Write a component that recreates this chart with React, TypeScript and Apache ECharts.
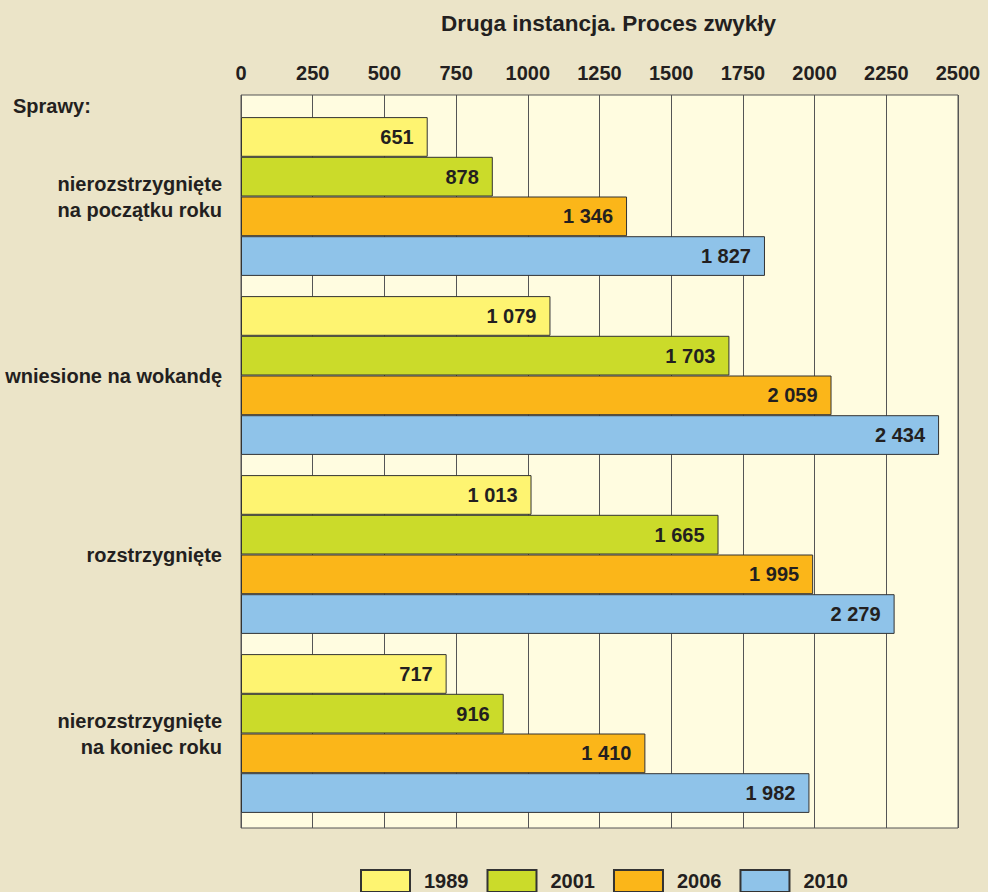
import React, { useEffect, useRef } from "react";
import * as echarts from "echarts";

const categories = [
  "nierozstrzygnięte\nna początku roku",
  "wniesione na wokandę",
  "rozstrzygnięte",
  "nierozstrzygnięte\nna koniec roku",
];
const seriesNames = ["1989", "2001", "2006", "2010"];
const values1989 = [651, 1079, 1013, 717];
const values2001 = [878, 1703, 1665, 916];
const values2006 = [1346, 2059, 1995, 1410];
const values2010 = [1827, 2434, 2279, 1982];
const colors = ["#fef471", "#cbdb2a", "#fbb619", "#8fc3e9"];

const fmt = (v: number) => String(v).replace(/\B(?=(\d{3})+(?!\d))/g, " ");

export default function App() {
  const ref = useRef<HTMLDivElement>(null);
  useEffect(() => {
    document.body.style.margin = "0";
    const chart = echarts.init(ref.current!, null, { renderer: "svg" });
    const font = "Liberation Sans, Arial, sans-serif";
    const allValues = [values1989, values2001, values2006, values2010];
    const txt = { fontSize: 20, fontWeight: "bold", color: "#231f20", fontFamily: font };
    chart.setOption({
      animation: false,
      backgroundColor: "#ebe4c8",
      textStyle: { fontFamily: font },
      title: {
        text: "Druga instancja. Proces zwykły",
        left: 436,
        top: 7,
        textStyle: { fontSize: 22.5, fontWeight: "bold", color: "#231f20", fontFamily: font },
      },
      legend: {
        data: seriesNames,
        icon: "rect",
        left: 360,
        top: 869,
        padding: 0,
        itemWidth: 49,
        itemHeight: 22,
        itemGap: 18,
        textStyle: { ...txt, padding: [0, 0, 0, 9] },
      },
      graphic: [
        {
          type: "text",
          left: 13,
          top: 96,
          style: { text: "Sprawy:", fontSize: 20, fontWeight: "bold", fill: "#231f20", fontFamily: font },
        },
      ],
      grid: [
        { left: 241, width: 717, top: 95, height: 733, show: true, backgroundColor: "#fffce0", borderColor: "#555", borderWidth: 1 },
        { left: 241, width: 717, top: 107, height: 716 },
      ],
      xAxis: [
        {
          gridIndex: 0,
          type: "value",
          position: "top",
          min: 0,
          max: 2500,
          interval: 250,
          axisLine: { show: false },
          axisTick: { show: false },
          axisLabel: { ...txt, margin: 12, formatter: (v: number) => String(v) },
          splitLine: { show: true, lineStyle: { color: "#555", width: 1 } },
        },
        {
          gridIndex: 1,
          type: "value",
          min: 0,
          max: 2500,
          show: false,
          splitLine: { show: false },
        },
      ],
      yAxis: [
        { gridIndex: 0, type: "category", data: categories, show: false, inverse: true },
        {
          gridIndex: 1,
          type: "category",
          data: categories,
          inverse: true,
          axisLine: { show: false },
          axisTick: { show: false },
          axisLabel: { ...txt, margin: 19, lineHeight: 26, align: "right" },
        },
      ],
      series: seriesNames.map((name, i) => ({
        name,
        type: "bar",
        xAxisIndex: 1,
        yAxisIndex: 1,
        data: allValues[i],
        barWidth: 39.7,
        barGap: "0%",
        itemStyle: { color: colors[i], borderColor: "#333", borderWidth: 1 },
        label: {
          show: true,
          position: "insideRight",
          distance: 14,
          ...txt,
          formatter: (p: any) => fmt(p.value),
        },
      })),
    });
    return () => chart.dispose();
  }, []);
  return <div ref={ref} style={{ width: 988, height: 892 }} />;
}
